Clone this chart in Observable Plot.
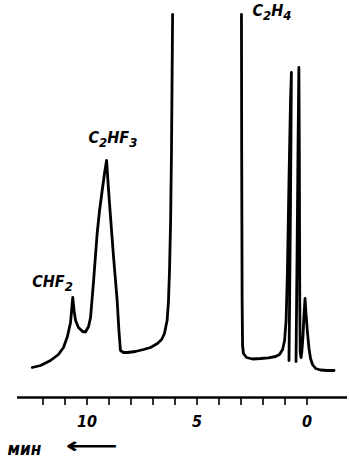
<!DOCTYPE html>
<html><head><meta charset="utf-8">
<script src="https://cdn.jsdelivr.net/npm/d3@7"></script>
<script src="https://cdn.jsdelivr.net/npm/@observablehq/plot@0.6"></script>
<style>
body{margin:0;background:#fff;}
#chart svg{display:block;}
</style></head><body><div id="chart"></div>
<script>
// Retention time (min) and detector signal (arbitrary units)
const time1 = [12.49,12.11,11.66,11.30,11.07,10.89,10.75,10.68,10.65,10.59,10.52,10.39,10.20,10.07,9.93,9.84,9.70,9.54,9.43,9.31,9.20,9.11,9.02,8.93,8.80,8.63,8.55,8.48,8.34,8.16,7.80,7.43,7.11,6.80,6.61,6.48,6.36,6.30,6.25,6.20,6.16,6.11];
const signal1 = [30,32,37,43,50,61,75,92,100,87,77,70,66,65.5,71,80,117,164,187,207,225,237,207,180,142,97,67,47,45,45,46,48,50,54,58,64,77,95,127,177,247,383];
const time2 = [2.98,2.97,2.95,2.93,2.89,2.75,2.48,2.11,1.75,1.43,1.25,1.11,1.02,0.95,0.89,0.82,0.75,0.71,0.75,0.80,0.82];
const signal2 = [383,247,97,52,44,40,38.5,39,39.7,41,43,48,57,77,127,217,297,325,197,77,37];
const time3 = [0.50,0.45,0.41,0.37,0.35,0.33,0.31,0.27,0.23,0.18,0.14,0.09,0.05,-0.02,-0.09,-0.16,-0.25,-0.39,-0.61,-0.93,-1.23];
const signal3 = [36,147,247,330,247,97,45,40,47,62,82,99,85,65,49,39,33,29,27.5,27,27];

const tickValues = [12,11,10,9,8,7,6,5,4,3,2,1,0];
const labelValues = [10,5,0];
const peakNames = ["CHF2","C2HF3","C2H4"];
const peakTimes = [12.49, 9.93, 2.48];
const peakLevels = [116, 260, 387];
const axisName = "мин";
const axisArrow = "⟵";

const rows = [];
[[time1,signal1],[time2,signal2],[time3,signal3]].forEach(([t,s],k) =>
  t.forEach((v,j) => rows.push({seg:k, t:v, s:s[j]})));

const font = "'Liberation Sans Narrow','DejaVu Sans Condensed',sans-serif";
const chart = Plot.plot({
  width:349, height:457,
  marginLeft:17, marginRight:2, marginTop:14, marginBottom:60,
  x:{domain:[13.16,-1.84], label:null},
  y:{domain:[0,383], axis:null},
  style:{background:"#fff", color:"#000", fontFamily:font},
  marks:[
    Plot.axisX(tickValues, {tickSize:8, strokeWidth:1.6, tickFormat:() => "", label:null}),
    Plot.axisX(labelValues, {tickSize:0, tickPadding:18, fontSize:16, fontWeight:"bold", fontStyle:"italic", label:null}),
    Plot.ruleY([0], {stroke:"#000", strokeWidth:2.4}),
    Plot.line(rows, {x:"t", y:"s", z:"seg", stroke:"#000", strokeWidth:2.8, strokeLinejoin:"round", strokeLinecap:"round"}),
    Plot.text(peakNames, {x:(d,i)=>peakTimes[i], y:(d,i)=>peakLevels[i], text:d=>d, textAnchor:"start", fontSize:16, fontWeight:"bold", fontStyle:"italic", fill:"#000"}),
    Plot.text([axisName], {frameAnchor:"bottom-left", dx:-10, dy:57, textAnchor:"start", fontSize:17, fontWeight:"bold", fontStyle:"italic", fill:"#000"}),
    Plot.text([axisArrow], {frameAnchor:"bottom-left", dx:48, dy:55, textAnchor:"start", fontSize:22, fontWeight:"bold", fill:"#000"})
  ]
});
// typographic styling: lowered digits in chemical formulas, stretched arrow
d3.select(chart).selectAll("text").each(function() {
  const t = this.textContent;
  if (peakNames.includes(t)) {
    const sel = d3.select(this);
    sel.text(null);
    let low = false;
    for (const ch of t) {
      const isDigit = /[0-9]/.test(ch);
      const ts = sel.append("tspan").text(ch);
      if (isDigit && !low) { ts.attr("dy", 4).attr("font-size", 13); low = true; }
      else if (isDigit) { ts.attr("font-size", 13); }
      else if (!isDigit && low) { ts.attr("dy", -4); low = false; }
    }
  } else if (t === axisArrow) {
    const tr = this.getAttribute("transform") || "";
    this.setAttribute("transform", tr + " scale(1.85,1)");
  }
});
document.getElementById("chart").append(chart);
</script></body></html>
